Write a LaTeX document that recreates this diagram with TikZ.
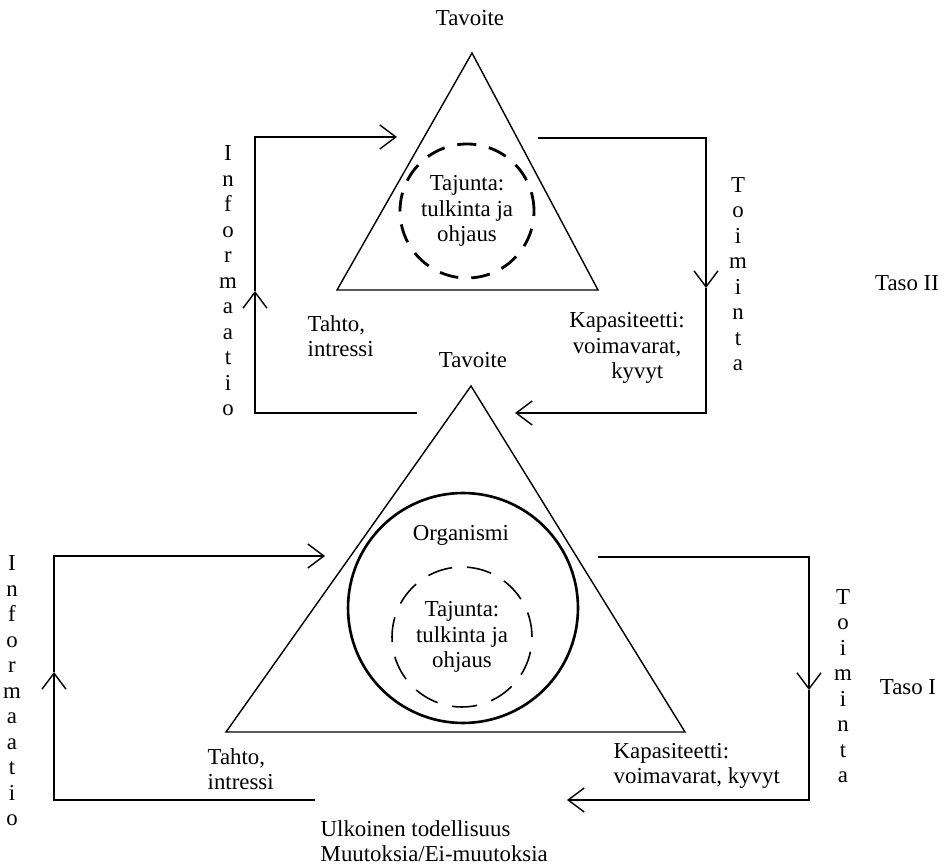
\documentclass[tikz,border=0pt]{standalone}
\usepackage{fontspec}
\setmainfont{Liberation Serif}
\usetikzlibrary{arrows.meta}

\begin{document}
\begin{tikzpicture}[
		x=0.02cm, y=-0.02cm,
		line width=0.8pt,
		>={Straight Barb[length=3.2mm,width=4.8mm]},
		font=\fontsize{13}{14.5}\selectfont,
		txt/.style={inner sep=0pt, align=center},
		flow/.style={->},
		organism/.style={draw, circle, line width=1.5pt, minimum size=4.6cm, inner sep=0pt},
		boldring/.style={draw, circle, line width=1.6pt, dash pattern=on 0.38cm off 0.26cm, minimum size=2.68cm, inner sep=0pt, align=center},
		thinring/.style={draw, circle, line width=0.9pt, dash pattern=on 0.5cm off 0.3cm, minimum size=2.8cm, inner sep=0pt, align=center},
	]
		\useasboundingbox (0,0) rectangle (947,864);

		% level II
		\coordinate (topA) at (472,53);
		\coordinate (topL) at (337,290);
		\coordinate (topR) at (598,290);
		\draw (topA) -- (topL) -- (topR) -- cycle;
		\node[boldring] (tajuntaII) at (467,211) {Tajunta:\\tulkinta ja\\ohjaus};
		\node[txt] (tavoiteII) at (470,18) {Tavoite};
		\node[txt, align=left, anchor=west] (tahtoII) at (307,336) {Tahto,\\intressi};
		\node[txt] (kapasII) at (627,348) {Kapasiteetti:\\voimavarat,\\\hspace*{0.9em}kyvyt};
		\node[txt] (infoII) at (228,281) {I\\n\\f\\o\\r\\m\\a\\a\\t\\i\\o};
		\node[txt] (toimII) at (738,274) {T\\o\\i\\m\\i\\n\\t\\a};
		\node[txt] (tasoII) at (907,283) {Taso II};

		% loops of level II
		\coordinate (infoII0) at (417,413);
		\coordinate (infoIIm) at (255,291);
		\coordinate (infoII1) at (397,137);
		\draw[flow] (infoII0) -| (infoIIm);
		\draw[flow] (infoIIm) |- (infoII1);
		\coordinate (toimII0) at (538,138);
		\coordinate (toimIIm) at (706,288);
		\coordinate (toimII1) at (515,413);
		\draw[flow] (toimII0) -| (toimIIm);
		\draw[flow] (toimIIm) |- (toimII1);

		% level I
		\coordinate (botA) at (471,386);
		\coordinate (botL) at (226,732);
		\coordinate (botR) at (685,732);
		\draw (botA) -- (botL) -- (botR) -- cycle;
		\node[organism] (organismi) at (463,608) {};
		\node[txt] (orgtext) at (461,535) {Organismi};
		\node[thinring] (tajuntaI) at (462,637) {Tajunta:\\tulkinta ja\\ohjaus};
		\node[txt] (tavoiteI) at (473,360) {Tavoite};
		\node[txt, align=left, anchor=west] (tahtoI) at (207,769) {Tahto,\\intressi};
		\node[txt, align=left, anchor=west] (kapasI) at (613,766) {Kapasiteetti:\\voimavarat, kyvyt};
		\node[txt, align=left, anchor=west] (ulkoinen) at (320,841) {Ulkoinen todellisuus\\Muutoksia/Ei-muutoksia};
		\node[txt] (infoI) at (12,691) {I\\n\\f\\o\\r\\m\\a\\a\\t\\i\\o};
		\node[txt] (toimI) at (843,686) {T\\o\\i\\m\\i\\n\\t\\a};
		\node[txt] (tasoI) at (908,687) {Taso I};

		% loops of level I
		\coordinate (infoI0) at (315,800);
		\coordinate (infoIm) at (54,672);
		\coordinate (infoI1) at (325,556);
		\draw[flow] (infoI0) -| (infoIm);
		\draw[flow] (infoIm) |- (infoI1);
		\coordinate (toimI0) at (598,557);
		\coordinate (toimIm) at (809,690);
		\coordinate (toimI1) at (567,800);
		\draw[flow] (toimI0) -| (toimIm);
		\draw[flow] (toimIm) |- (toimI1);
	\end{tikzpicture}
\end{document}
